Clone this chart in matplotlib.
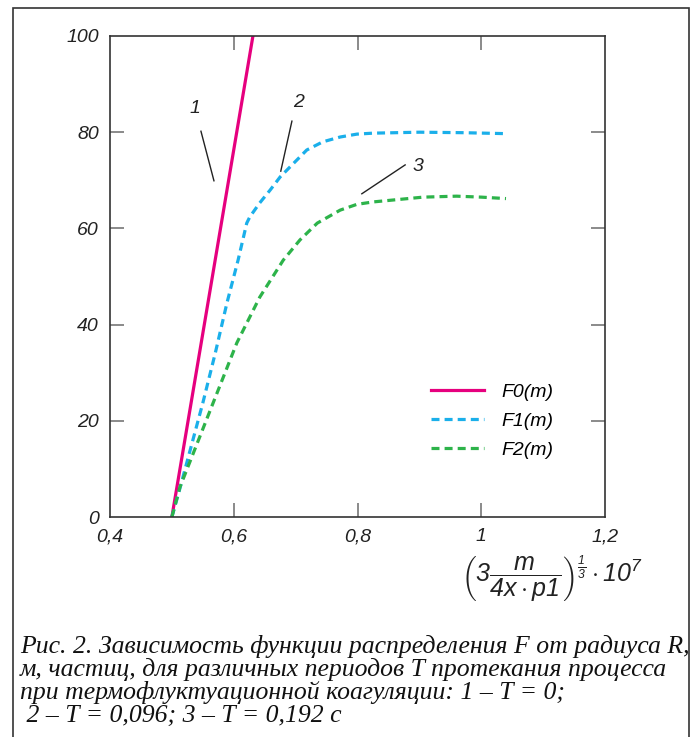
import matplotlib as mpl
mpl.use('Agg')
import matplotlib.pyplot as plt
from matplotlib.patches import Rectangle

# curve data
f0_x = [0.5, 0.631]
f0_y = [0, 100]

f1_x = [0.5, 0.511, 0.55, 0.57, 0.589, 0.607, 0.621, 0.626, 0.642, 0.659, 0.675, 0.718,
        0.744, 0.772, 0.799, 0.825, 0.9, 0.97, 1.04]
f1_y = [0, 5, 23.7, 34, 44.5, 53.4, 61.1, 62.4, 65.3, 68.0, 70.7, 76.3,
        78.0, 79.0, 79.6, 79.8, 80.0, 79.9, 79.7]

f2_x = [0.5, 0.513, 0.562, 0.605, 0.642, 0.68, 0.707, 0.735, 0.772, 0.799, 0.825,
        0.906, 0.96, 1.0, 1.04]
f2_y = [0, 6.2, 22.2, 36.2, 45.7, 53.4, 57.6, 61.1, 63.8, 65.0, 65.5,
        66.5, 66.7, 66.5, 66.2]

series_names = ['F0(m)', 'F1(m)', 'F2(m)']
x_ticks = [0.4, 0.6, 0.8, 1.0, 1.2]
x_ticklabels = ['0,4', '0,6', '0,8', '1', '1,2']
y_ticks = [0, 20, 40, 60, 80, 100]

caption_lines = ["Рис. 2. Зависимость функции распределения F от радиуса R,",
                 "м, частиц, для различных периодов T протекания процесса",
                 "при термофлуктуационной коагуляции: 1 – T = 0;",
                 " 2 – T = 0,096; 3 – T = 0,192 c"]

plt.rcParams['font.family'] = ['Liberation Sans', 'DejaVu Sans']
plt.rcParams['font.style'] = 'italic'
plt.rcParams['mathtext.fontset'] = 'custom'
plt.rcParams['mathtext.rm'] = 'Liberation Sans:italic'
plt.rcParams['mathtext.it'] = 'Liberation Sans:italic'

W, H = 696, 737
fig = plt.figure(figsize=(W / 100, H / 100), dpi=100)
ax = fig.add_axes([110 / W, 1 - 517 / H, 495 / W, 481 / H])

pink = '#E6007E'
cyan = '#1AAFEA'
green = '#2DB34A'

ax.plot(f0_x, f0_y, color=pink, lw=2.3, label=series_names[0])
ax.plot(f1_x, f1_y, color=cyan, lw=2.3, dashes=(2.5, 1.6), label=series_names[1])
ax.plot(f2_x, f2_y, color=green, lw=2.3, dashes=(2.5, 1.6), label=series_names[2])

ax.set_xlim(0.4, 1.2)
ax.set_ylim(0, 100)
ax.set_xticks(x_ticks)
ax.set_xticklabels(x_ticklabels)
ax.set_yticks(y_ticks)
ax.tick_params(direction='in', length=10, width=1.2, color='#777777',
               labelsize=14, pad=8, top=True, right=True)
for s in ax.spines.values():
    s.set_linewidth(1.2)
    s.set_color('#333333')
for t in ax.get_xticklabels() + ax.get_yticklabels():
    t.set_style('italic')
    t.set_color('#222222')
# hide tick marks at the corners
for tk in ax.xaxis.get_major_ticks():
    if tk.get_loc() in (0.4, 1.2):
        tk.tick1line.set_visible(False)
        tk.tick2line.set_visible(False)
for tk in ax.yaxis.get_major_ticks():
    if tk.get_loc() in (0, 100):
        tk.tick1line.set_visible(False)
        tk.tick2line.set_visible(False)

leg = ax.legend(loc='lower right', bbox_to_anchor=(0.931, 0.085), frameon=False,
                fontsize=14, handlelength=2.7, handletextpad=0.9, labelspacing=0.57)
for t in leg.get_texts():
    t.set_style('italic')

# curve number callouts
ax.text(0.537, 85.0, '1', fontsize=14, ha='center', va='center', color='#222222')
ax.plot([0.547, 0.568], [80.2, 69.9], color='#222222', lw=1)
ax.text(0.705, 86.1, '2', fontsize=14, ha='center', va='center', color='#222222')
ax.plot([0.694, 0.676], [82.3, 71.9], color='#222222', lw=1)
ax.text(0.898, 72.8, '3', fontsize=14, ha='center', va='center', color='#222222')
ax.plot([0.877, 0.807], [73.2, 67.2], color='#222222', lw=1)

fig.text(552 / W, 1 - 579 / H,
         r'$\left(3\dfrac{m}{4x\cdot p1}\right)^{\frac{1}{3}}\cdot 10^{7}$',
         fontsize=18, ha='center', va='center', color='#222222')

for i, line in enumerate(caption_lines):
    fig.text(20 / W, 1 - (653 + 23 * i) / H, line, fontsize=18.5,
             family='Liberation Serif', style='italic', ha='left',
             va='baseline', color='#111111')

fig.patches.append(Rectangle((13 / W, -0.01), 676 / W, 1 - 8 / H + 0.01,
                             transform=fig.transFigure, fill=False,
                             edgecolor='#333333', lw=1.2))

fig.savefig('out.png', dpi=100)
